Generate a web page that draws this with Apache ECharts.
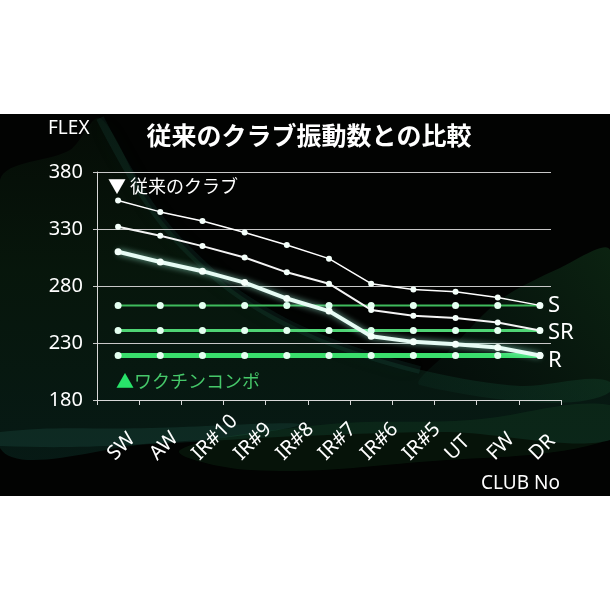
<!DOCTYPE html>
<html>
<head>
<meta charset="utf-8">
<script src="https://cdn.jsdelivr.net/npm/echarts@6/dist/echarts.min.js"></script>
<style>
	html, body { margin: 0; padding: 0; background: #fff; }
	#chart { width: 610px; height: 610px; }
</style>
</head>
<body>
<div id="chart"></div>
<script>
// クラブ番手
const categories = ['SW', 'AW', 'IR#10', 'IR#9', 'IR#8', 'IR#7', 'IR#6', 'IR#5', 'UT', 'FW', 'DR']
// 従来のクラブ（S / SR / R）
const convS = [355, 345, 337, 327, 316, 304, 282, 277, 275, 270, 263]
const convSR = [332, 324, 315, 305, 292, 282, 259, 254, 252, 248, 241]
const convR = [310, 301, 293, 283, 269, 258, 236, 231, 229, 226, 219]
// ワクチンコンポ（S / SR / R）
const wakuS = [263, 263, 263, 263, 263, 263, 263, 263, 263, 263, 263]
const wakuSR = [241, 241, 241, 241, 241, 241, 241, 241, 241, 241, 241]
const wakuR = [219, 219, 219, 219, 219, 219, 219, 219, 219, 219, 219]
// Y軸目盛
const yMin = 180
const yMax = 380
const yStep = 50

const FONT = "'Noto Sans', 'Noto Sans CJK JP', sans-serif"
const JP = "'Noto Sans CJK JP', 'Noto Sans', sans-serif"

const chart = echarts.init(document.getElementById('chart'))

const greenLine = (data, width, color, label, offsetY) => ({
	type: 'line',
	xAxisIndex: 0,
	yAxisIndex: 0,
	data: data,
	z: 3,
	symbol: 'circle',
	symbolSize: 7,
	itemStyle: { color: '#e4fff0' },
	lineStyle: { color: color, width: width },
	endLabel: {
		show: true,
		formatter: label,
		color: '#ffffff',
		fontSize: 22,
		fontFamily: FONT,
		distance: 8,
		offset: [0, offsetY]
	}
})

const whiteLine = (data, width, color, size, glow) => ({
	type: 'line',
	xAxisIndex: 0,
	yAxisIndex: 0,
	data: data,
	z: 4,
	symbol: 'circle',
	symbolSize: size,
	itemStyle: { color: '#f4fffa' },
	lineStyle: {
		color: color,
		width: width,
		shadowBlur: glow ? 6 : 0,
		shadowColor: 'rgba(170,255,230,0.7)'
	}
})

const option = {
	animation: false,
	backgroundColor: '#ffffff',
	graphic: [
		{ type: 'rect', z: -20, shape: { x: 0, y: 114, width: 610, height: 382 }, style: { fill: '#020302' } },
		// 背景の波（装飾）
		{
			type: 'polygon', z: -19,
			shape: {
				smooth: 0.3,
				points: [[0, 180], [70, 150], [100, 118], [150, 205], [200, 262], [255, 305], [330, 342], [430, 372], [520, 386], [610, 382],
					[610, 440], [450, 432], [300, 436], [150, 444], [0, 448]]
			},
			style: {
				fill: new echarts.graphic.LinearGradient(0, 0, 0, 1, [
					{ offset: 0, color: 'rgba(30,90,40,0.10)' },
					{ offset: 0.45, color: 'rgba(25,90,45,0.22)' },
					{ offset: 1, color: 'rgba(20,90,75,0.26)' }
				])
			}
		},
		{
			type: 'polyline', z: -18,
			shape: { smooth: 0.4, points: [[100, 118], [150, 205], [200, 262], [255, 305], [330, 342], [420, 370]] },
			style: { stroke: 'rgba(60,170,150,0.10)', lineWidth: 8, fill: null, shadowBlur: 24, shadowColor: 'rgba(60,170,150,0.35)' }
		},
		{
			type: 'polygon', z: -19,
			shape: { smooth: 0.3, points: [[610, 250], [560, 268], [500, 300], [450, 350], [420, 385], [610, 392]] },
			style: {
				fill: new echarts.graphic.LinearGradient(1, 0, 0, 1, [
					{ offset: 0, color: 'rgba(40,130,60,0.26)' },
					{ offset: 1, color: 'rgba(20,90,70,0.10)' }
				])
			}
		},
		{
			type: 'polygon', z: -18,
			shape: { smooth: 0.4, points: [[0, 432], [150, 428], [300, 424], [200, 440], [0, 446]] },
			style: { fill: 'rgba(60,160,140,0.13)' }
		},
		{
			type: 'polygon', z: -19,
			shape: { smooth: 0.4, points: [[180, 450], [320, 425], [470, 420], [610, 405], [610, 440], [420, 462], [250, 470]] },
			style: { fill: 'rgba(35,130,60,0.13)' }
		},
		{
			type: 'text', x: 309, y: 135,
			style: { text: '従来のクラブ振動数との比較', fill: '#ffffff', font: 'bold 25px ' + JP, textAlign: 'center', textVerticalAlign: 'middle' }
		},
		{
			type: 'text', x: 48, y: 129,
			style: { text: 'FLEX', fill: '#ffffff', font: '19px ' + FONT, textVerticalAlign: 'middle' }
		},
		{
			type: 'text', x: 481, y: 484,
			style: { text: 'CLUB No', fill: '#ffffff', font: '19px ' + FONT, textVerticalAlign: 'middle' }
		},
		{
			type: 'text', x: 108, y: 186,
			style: { text: '▼ 従来のクラブ', fill: '#ffffff', font: '18px ' + JP, textVerticalAlign: 'middle' }
		},
		{
			type: 'text', x: 116, y: 381,
			style: {
				text: '{a|▲}{b|ワクチンコンポ}', textVerticalAlign: 'middle',
				rich: {
					a: { fill: '#28e36a', font: '18px ' + JP },
					b: { fill: '#46c86a', font: '18px ' + JP }
				}
			}
		}
	],
	grid: [
		{ left: 97, right: 49, top: 172, bottom: 210 },
		{ left: 93, right: 59, top: 172, bottom: 210 }
	],
	xAxis: [
		{
			type: 'category',
			gridIndex: 0,
			data: categories,
			axisLine: { lineStyle: { color: '#d8d8d8', width: 1 } },
			axisTick: { show: true, length: 5, lineStyle: { color: '#d8d8d8' } },
			axisLabel: {
				color: '#ffffff', fontSize: 20, fontFamily: FONT, rotate: 45, interval: 0,
				align: 'left', verticalAlign: 'bottom', margin: 64
			},
			splitLine: { show: false }
		},
		{ type: 'category', gridIndex: 1, data: categories, show: false }
	],
	yAxis: [
		{
			type: 'value',
			gridIndex: 0,
			min: yMin,
			max: yMax,
			interval: yStep,
			axisLine: { show: true, lineStyle: { color: '#d8d8d8', width: 1 } },
			axisTick: { show: false },
			axisLabel: { color: '#ffffff', fontSize: 20, fontFamily: FONT, margin: 14 },
			splitLine: { show: false }
		},
		{
			type: 'value',
			gridIndex: 1,
			min: yMin,
			max: yMax,
			interval: yStep,
			axisLine: { show: false },
			axisTick: { show: false },
			axisLabel: { show: false },
			splitLine: { show: true, lineStyle: { color: '#c8c8c8', width: 1 } }
		}
	],
	series: [
		greenLine(wakuS, 2, '#3fbb5c', 'S', 0),
		greenLine(wakuSR, 3, '#4fd474', 'SR', 2),
		greenLine(wakuR, 5, '#3ade6c', 'R', 5),
		whiteLine(convS, 1.5, '#ffffff', 6, false),
		whiteLine(convSR, 2, '#f4f4f4', 6, false),
		whiteLine(convR, 4, '#e6fbf4', 7, true)
	]
}

chart.setOption(option)
</script>
</body>
</html>
